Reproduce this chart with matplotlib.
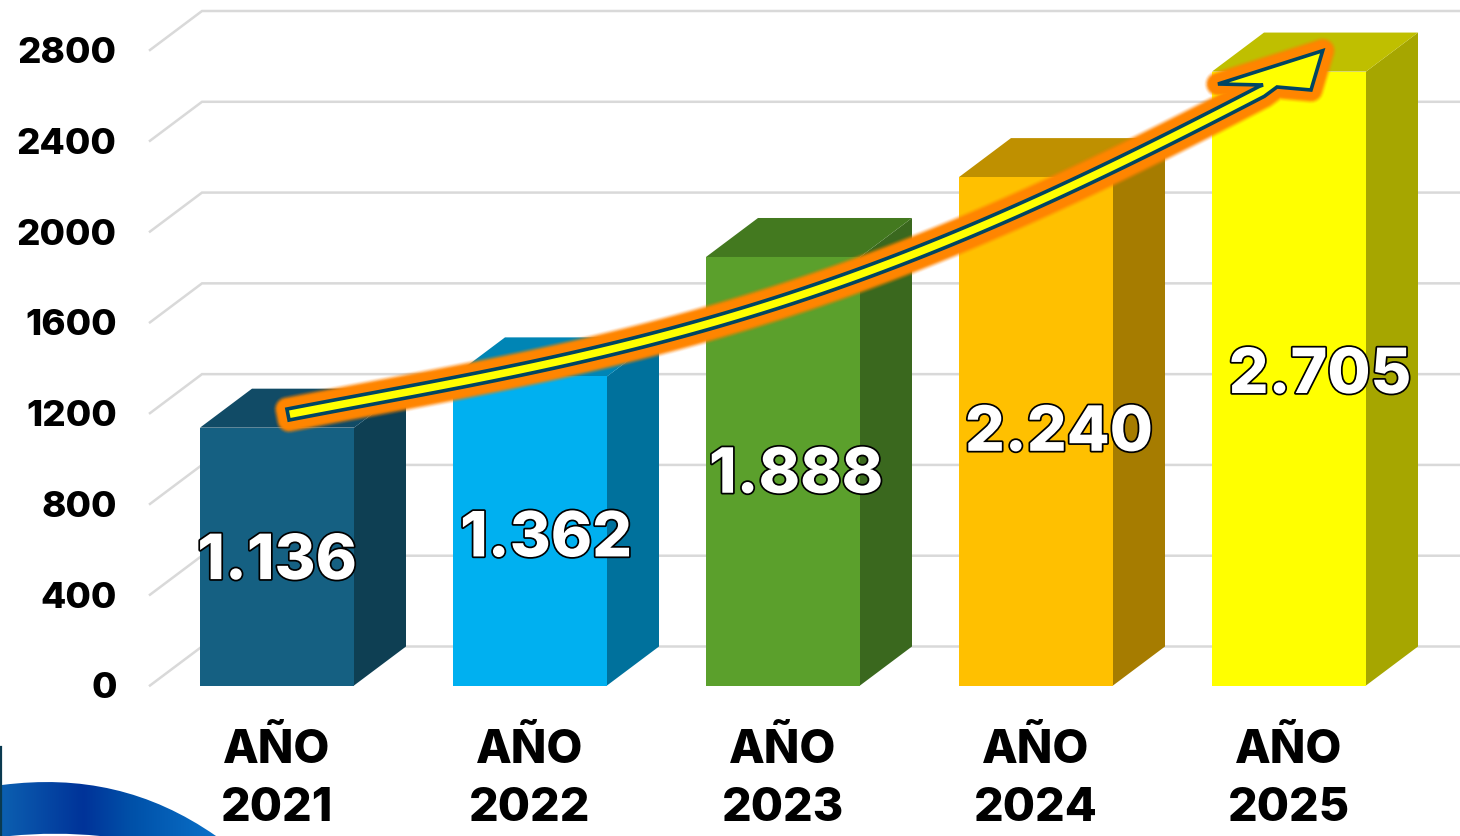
import numpy as np
import matplotlib
matplotlib.use('Agg')
import matplotlib.pyplot as plt
import matplotlib.patheffects as pe
from matplotlib.colors import LinearSegmentedColormap
from matplotlib.patches import PathPatch, Polygon
from matplotlib.path import Path

# datos del grafico
years = ['AÑO\n2021', 'AÑO\n2022', 'AÑO\n2023', 'AÑO\n2024', 'AÑO\n2025']
values = [1136, 1362, 1888, 2240, 2705]
value_labels = ['1.136', '1.362', '1.888', '2.240', '2.705']
y_ticks = [0, 400, 800, 1200, 1600, 2000, 2400, 2800]

front_colors = ['#156082', '#00B0F0', '#5BA02C', '#FFC000', '#FFFF00']
side_colors = ['#0E3F53', '#00719C', '#3A681E', '#A67C00', '#A6A600']
top_colors = ['#114B66', '#0085B5', '#43791F', '#BF9000', '#BFBF00']

# desplazamiento de cada etiqueta respecto al centro de la barra (px)
label_dx = [0, 16, 13, 23, 31]
label_dy = [-6, -9, -5, -3, 2]

W, H = 1460, 836
PX_PER_CAT = 253
PX_PER_UNIT = 635.5 / 2800
FLOOR_PY = 685.5
LEFT_PX = 150
BAR_W = 154 / PX_PER_CAT
DEPTH_X = 52 / PX_PER_CAT
DEPTH_Y = 39 / PX_PER_UNIT
FONT = 'Inter'

fig = plt.figure(figsize=(W / 100, H / 100), dpi=100)
fig.patch.set_facecolor('white')
ax = fig.add_axes([LEFT_PX / W, (H - FLOOR_PY) / H, 1 - LEFT_PX / W, FLOOR_PY / H])
x_min = (LEFT_PX - 277) / PX_PER_CAT
x_max = (W - 277) / PX_PER_CAT
ax.set_xlim(x_min, x_max)
ax.set_ylim(0, FLOOR_PY / PX_PER_UNIT)
for s in ax.spines.values():
    s.set_visible(False)

# rejilla con el piso en perspectiva
for v in y_ticks:
    ax.plot([x_min, x_min + DEPTH_X, x_max], [v, v + DEPTH_Y, v + DEPTH_Y],
            color='#D9D9D9', lw=1.8, clip_on=False, zorder=1, solid_joinstyle='miter')

xs = np.arange(len(values))
ax.bar(xs, values, width=BAR_W, color=front_colors, zorder=4)
for x, v, side, top in zip(xs, values, side_colors, top_colors):
    x1 = x + BAR_W / 2
    x0 = x - BAR_W / 2
    ax.add_patch(Polygon([(x1, 0), (x1 + DEPTH_X, DEPTH_Y), (x1 + DEPTH_X, v + DEPTH_Y), (x1, v)],
                         closed=True, fc=side, ec='none', zorder=3))
    ax.add_patch(Polygon([(x0, v), (x0 + DEPTH_X, v + DEPTH_Y), (x1 + DEPTH_X, v + DEPTH_Y), (x1, v)],
                         closed=True, fc=top, ec='none', zorder=3))

for x, v, txt, dx, dy in zip(xs, values, value_labels, label_dx, label_dy):
    ax.annotate(txt, xy=(x, v / 2), xytext=(dx * 0.72, dy * 0.72), textcoords='offset points',
                ha='center', va='center', color='white', family=FONT, weight='heavy', fontsize=45,
                zorder=6, path_effects=[pe.withStroke(linewidth=2.5, foreground='black')])

ax.set_xticks(xs, years)
ax.set_yticks(y_ticks, [str(v) for v in y_ticks])
ax.tick_params(axis='both', length=0)
ax.tick_params(axis='y', pad=24)
ax.tick_params(axis='x', pad=31)
for lab in ax.get_xticklabels():
    lab.set(family=FONT, weight='heavy', fontsize=33.5, linespacing=1.42, color='black')
for lab in ax.get_yticklabels():
    lab.set(family=FONT, weight='heavy', fontsize=26.5, color='black')

# capa superior en pixeles para la flecha y el adorno de abajo
ov = fig.add_axes([0, 0, 1, 1], zorder=5)
ov.set_xlim(0, W)
ov.set_ylim(H, 0)
ov.axis('off')
ov.patch.set_visible(False)

# adorno azul de la esquina
cmap = LinearSegmentedColormap.from_list('swoosh', [(0, '#0C5FB0'), (0.38, '#003399'),
                                                    (0.6, '#0050A8'), (1, '#0A70C8')])
img = ov.imshow(np.linspace(0, 1, 256)[None, :], extent=(2, 216, 836, 780), cmap=cmap, aspect='auto', zorder=1)
swoosh = Path([(2, 785), (80, 775), (150, 790), (216, 836), (100, 836), (70, 833), (40, 833), (10, 836), (2, 836), (2, 785)],
              [Path.MOVETO, Path.CURVE4, Path.CURVE4, Path.CURVE4, Path.LINETO, Path.CURVE4, Path.CURVE4, Path.CURVE4,
               Path.LINETO, Path.CLOSEPOLY])
img.set_clip_path(PathPatch(swoosh, transform=ov.transData))
ov.set_xlim(0, W)
ov.set_ylim(H, 0)
ov.plot([1, 1], [747, 836], color='#0A3A50', lw=1.6, zorder=2)

# flecha curva: eje central del cuerpo
cx = np.array([288, 440, 680, 920, 1067, 1150, 1240, 1270])
cy = np.array([414.5, 386, 331, 253, 186, 149, 104, 86])
coef = np.polyfit(cx, cy, 4)
sx = np.linspace(288, 1270, 120)
sy = np.polyval(coef, sx)
slope = np.polyval(np.polyder(coef), sx)
nx, ny = -slope / np.hypot(1, slope), 1 / np.hypot(1, slope)
half = 5.6
upper = np.c_[sx - nx * half, sy - ny * half]
lower = np.c_[sx + nx * half, sy + ny * half]
head = [(1263, 85), (1218, 84), (1322.7, 50.7), (1311, 90), (1277, 87)]
outline = np.vstack([upper[:-1], head, lower[:-1][::-1]])

# halo naranja difuminado
for lw, alpha in [(20, 0.08), (19, 0.12), (18, 0.18), (17, 0.25), (16, 0.35), (15, 0.5), (14, 0.7), (12.5, 1)]:
    ov.add_patch(Polygon(outline, closed=True, fc='#FF8500', ec='#FF8500', lw=lw, alpha=alpha,
                         joinstyle='round', zorder=3))
ov.add_patch(Polygon(outline, closed=True, fc='#FFFF00', ec='#004563', lw=2.6, joinstyle='miter', zorder=4))

fig.savefig('out.png', dpi=100, facecolor='white')
